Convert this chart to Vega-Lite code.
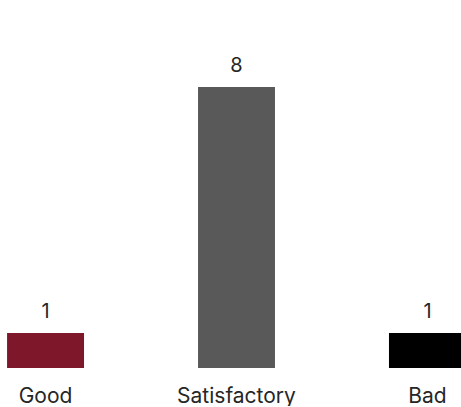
{
  "$schema": "https://vega.github.io/schema/vega-lite/v6.json",
  "autosize": {"type": "pad"},
  "padding": 0,
  "width": 473,
  "height": 368,
  "background": "white",
  "data": {"values": [
    {"rating": "Good", "count": 1},
    {"rating": "Satisfactory", "count": 8},
    {"rating": "Bad", "count": 1}
  ]},
  "encoding": {
    "x": {"field": "rating", "type": "nominal", "sort": null,
      "scale": {"paddingInner": 0.597, "paddingOuter": 0.037},
      "axis": {"title": null, "domain": false, "ticks": false, "labelAngle": 0,
        "labelFont": "Inter", "labelFontSize": 21, "labelColor": "#262626", "labelPadding": 17}},
    "y": {"field": "count", "type": "quantitative", "scale": {"domain": [0, 10.48]}, "axis": null}
  },
  "layer": [
    {"mark": {"type": "bar"},
     "encoding": {"color": {"field": "rating", "type": "nominal", "sort": null,
       "scale": {"domain": ["Good", "Satisfactory", "Bad"], "range": ["#7d1729", "#595959", "#000000"]}, "legend": null}}},
    {"mark": {"type": "text", "baseline": "alphabetic", "dy": -15, "font": "Inter", "fontSize": 20, "color": "#262626"},
     "encoding": {"text": {"field": "count", "type": "quantitative"}}}
  ],
  "config": {"view": {"stroke": null}}
}
